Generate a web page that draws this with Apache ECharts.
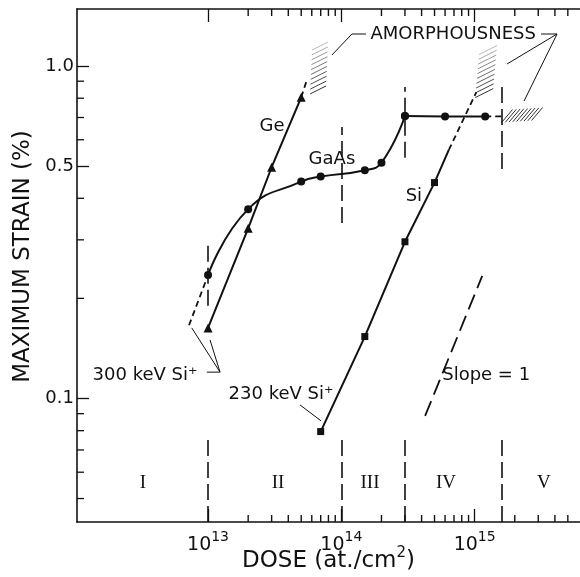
<!DOCTYPE html>
<html>
<head>
<meta charset="utf-8">
<script src="https://cdn.jsdelivr.net/npm/echarts@6/dist/echarts.min.js"></script>
<style>html,body{margin:0;padding:0;background:#fff}#chart{width:580px;height:577px}</style>
</head>
<body>
<div id="chart"></div>
<script>
// axis ranges and tick values
const doseRange = [1.04e12, 6.17e15];
const strainRange = [0.0425, 1.484];
const doseMajorTicks = [1e13, 1e14, 1e15];
const doseMinorTicks = [2e13, 3e13, 4e13, 5e13, 6e13, 7e13, 8e13, 9e13,
  2e14, 3e14, 4e14, 5e14, 6e14, 7e14, 8e14, 9e14, 2e15, 3e15, 4e15, 5e15];
const strainMajorTicks = [0.1, 0.5, 1.0];
const strainMinorTicks = [0.05, 0.06, 0.07, 0.08, 0.09, 0.2, 0.3, 0.4, 0.6, 0.7, 0.8, 0.9];

// GaAs
const gaasDose = [1e13, 2e13, 5e13, 7e13, 1.5e14, 2e14, 3e14];
const gaasStrain = [0.235, 0.371, 0.449, 0.465, 0.486, 0.512, 0.707];
const gaasFlatDose = [3e14, 6e14, 1.2e15];
const gaasFlatStrain = [0.707, 0.705, 0.705];
const gaasLowDose = [7.2e12, 1e13];
const gaasLowStrain = [0.166, 0.235];
const gaasEndDose = [1.2e15, 1.6e15];
const gaasEndStrain = [0.705, 0.705];

// Ge
const geDose = [1e13, 2e13, 3e13, 5e13];
const geStrain = [0.163, 0.325, 0.496, 0.805];
const geEndDose = [5e13, 5.45e13];
const geEndStrain = [0.805, 0.895];

// Si
const siDose = [7e13, 1.5e14, 3e14, 5e14, 6.4e14];
const siStrain = [0.0795, 0.1535, 0.296, 0.446, 0.559];
const siEndDose = [6.4e14, 1.03e15];
const siEndStrain = [0.559, 0.835];

// slope = 1 guide
const slopeDose = [4.25e14, 1.14e15];
const slopeStrain = [0.0886, 0.2336];

// region boundaries
const boundaryDose = [1e13, 1e14, 3e14, 1.6e15];
const boundaryUpLow = [0.19, 0.337, 0.53, 0.49];
const boundaryUpHigh = [0.30, 0.655, 0.865, 0.865];
const boundaryLowTop = [0.076, 0.076, 0.078, 0.077];

// region names
const regionNames = ['I', 'II', 'III', 'IV', 'V'];
const regionDose = [3.25e12, 3.35e13, 1.64e14, 6.1e14, 3.3e15];
const regionStrain = [0.0557, 0.0557, 0.0557, 0.0557, 0.0557];

// text notes
const noteText = ['Ge', 'GaAs', 'Si', 'AMORPHOUSNESS', '300 keV Si\u207A', '230 keV Si\u207A', 'Slope = 1'];
const noteDose = [3.02e13, 8.5e13, 3.5e14, 6.9e14, 3.37e12, 3.53e13, 1.22e15];
const noteStrain = [0.66, 0.525, 0.406, 1.248, 0.117, 0.1031, 0.117];

// arrows
const leaderPaths = [
  [[1.53e14, 1.248], [1.2e14, 1.248], [8.5e13, 1.079]],
  [[3.15e15, 1.248], [4.15e15, 1.248], [1.75e15, 1.014]],
  [[4.15e15, 1.248], [2.35e15, 0.785]],
  [[9.8e12, 0.120], [1.23e13, 0.120], [7.55e12, 0.163]],
  [[1.23e13, 0.120], [1.035e13, 0.150]],
  [[4.9e13, 0.0956], [7.05e13, 0.0856]]
];

// amorphous zones (start / end of the hatched band)
const zoneFrom = [[6.69e13, 0.847], [1.18e15, 0.829], [1.75e15, 0.707]];
const zoneTo = [[6.92e13, 1.148], [1.26e15, 1.117], [2.94e15, 0.717]];

const ink = '#111';
const font = 'DejaVu Sans';
const pairs = (xs, ys) => xs.map((x, i) => [x, ys[i]]);

const hatchLook = [
  { n: 10, dx: 16, dy: -8, fade: 0.65 },
  { n: 10, dx: 18, dy: -9, fade: 0.65 },
  { n: 9, dx: 11, dy: -13, fade: 0 }
];

function renderHatch(params, api) {
  const a = api.coord([api.value(0), api.value(1)]);
  const b = api.coord([api.value(2), api.value(3)]);
  const st = hatchLook[params.dataIndex];
  const kids = [];
  for (let i = 0; i < st.n; i++) {
    const t = i / (st.n - 1);
    const cx = a[0] + (b[0] - a[0]) * t;
    const cy = a[1] + (b[1] - a[1]) * t;
    kids.push({
      type: 'line',
      shape: { x1: cx - st.dx / 2, y1: cy - st.dy / 2, x2: cx + st.dx / 2, y2: cy + st.dy / 2 },
      style: { stroke: '#333', lineWidth: 1, opacity: 1 - st.fade * t }
    });
  }
  return { type: 'group', children: kids };
}

// small inward ticks for the minor log divisions (bottom + top, or left)
const MINOR_LEN = 7;
function renderDoseTick(params, api) {
  const v = api.value(0);
  const lo = api.coord([v, strainRange[0]]);
  const hi = api.coord([v, strainRange[1]]);
  const st = { stroke: ink, lineWidth: 1.4 };
  return {
    type: 'group', children: [
      { type: 'line', shape: { x1: lo[0], y1: lo[1], x2: lo[0], y2: lo[1] - MINOR_LEN }, style: st },
      { type: 'line', shape: { x1: hi[0], y1: hi[1], x2: hi[0], y2: hi[1] + MINOR_LEN }, style: st }
    ]
  };
}
function renderStrainTick(params, api) {
  const p = api.coord([doseRange[0], api.value(1)]);
  return {
    type: 'line', shape: { x1: p[0], y1: p[1], x2: p[0] + MINOR_LEN, y2: p[1] },
    style: { stroke: ink, lineWidth: 1.3 }
  };
}

function textRenderer(texts, style) {
  return function (params, api) {
    const p = api.coord([api.value(0), api.value(1)]);
    return {
      type: 'text', x: p[0], y: p[1],
      style: Object.assign({ text: texts[params.dataIndex], fill: ink, align: 'center', verticalAlign: 'middle' }, style)
    };
  };
}

function xAxisFor(pos, withLabel) {
  return {
    type: 'log', position: pos, min: doseRange[0], max: doseRange[1],
    axisLine: { show: true, onZero: false, lineStyle: { color: ink, width: 1.6 } },
    axisTick: { show: true, inside: true, interval: 0, length: 13, customValues: doseMajorTicks, lineStyle: { color: ink, width: 1.3 } },
    axisLabel: withLabel ? {
      show: true, customValues: doseMajorTicks, margin: 6,
      formatter: v => '{b|10}{s|' + Math.round(Math.log10(v)) + '}',
      rich: {
        b: { fontSize: 19, fontFamily: font, color: ink, padding: [8, 0, 0, 0] },
        s: { fontSize: 14, fontFamily: font, color: ink, padding: [0, 0, 8, 0] }
      }
    } : { show: false },
    splitLine: { show: false },
    name: withLabel ? '{a|DOSE (at./cm}{s|2}{a|)}' : '',
    nameLocation: 'middle', nameGap: 20, nameMoveOverlap: false,
    nameTextStyle: {
      rich: {
        a: { fontSize: 23, fontFamily: font, color: ink, padding: [8, 0, 0, 0] },
        s: { fontSize: 15, fontFamily: font, color: ink, padding: [0, 0, 8, 0] }
      }
    }
  };
}

const option = {
  animation: false,
  backgroundColor: '#fff',
  grid: { left: 77, right: 0, top: 9, bottom: 55, containLabel: false, outerBoundsMode: 'none' },
  xAxis: [xAxisFor('bottom', true), xAxisFor('top', false)],
  yAxis: {
    type: 'log', position: 'left', min: strainRange[0], max: strainRange[1],
    axisLine: { show: true, onZero: false, lineStyle: { color: ink, width: 1.6 } },
    axisTick: { show: true, inside: true, interval: 0, length: 12, customValues: strainMajorTicks, lineStyle: { color: ink, width: 1.3 } },
    axisLabel: {
      show: true, customValues: strainMajorTicks, margin: 3,
      fontSize: 18, fontFamily: font, color: ink,
      formatter: v => (v === 1 ? '1.0' : String(v))
    },
    splitLine: { show: false },
    name: 'MAXIMUM STRAIN (%)',
    nameLocation: 'middle', nameGap: 42, nameRotate: 90, nameMoveOverlap: false,
    nameTextStyle: { fontSize: 23, fontFamily: font, color: ink, padding: [0, 0, 0, 18] }
  },
  series: [
    {
      type: 'custom', renderItem: renderDoseTick, z: 8, silent: true, clip: false,
      data: doseMinorTicks.map(v => [v, strainRange[0]])
    },
    {
      type: 'custom', renderItem: renderStrainTick, z: 8, silent: true, clip: false,
      data: strainMinorTicks.map(v => [doseRange[0], v])
    },
    {
      type: 'custom', renderItem: renderHatch, z: 2,
      data: zoneFrom.map((f, i) => [f[0], f[1], zoneTo[i][0], zoneTo[i][1]]),
      encode: { x: [0, 2], y: [1, 3] }
    },
    {
      type: 'lines', coordinateSystem: 'cartesian2d', z: 3,
      lineStyle: { color: ink, width: 1.6, type: [16, 6], opacity: 1 },
      data: (function () {
        const segs = [];
        boundaryDose.forEach((d, i) => {
          segs.push({ coords: [[d, boundaryUpLow[i]], [d, boundaryUpHigh[i]]] });
          segs.push({ coords: [[d, strainRange[0]], [d, boundaryLowTop[i]]] });
        });
        return segs;
      })()
    },
    {
      type: 'line', data: pairs(gaasDose, gaasStrain), symbol: 'circle', symbolSize: 8, smooth: 0.5,
      lineStyle: { color: ink, width: 2 }, itemStyle: { color: ink }, z: 5
    },
    {
      type: 'line', data: pairs(gaasFlatDose, gaasFlatStrain), symbol: 'circle', symbolSize: 8,
      lineStyle: { color: ink, width: 2 }, itemStyle: { color: ink }, z: 5
    },
    {
      type: 'line', data: pairs(gaasLowDose, gaasLowStrain), symbol: 'none',
      lineStyle: { color: ink, width: 1.8, type: [6, 4] }, z: 4
    },
    {
      type: 'line', data: pairs(gaasEndDose, gaasEndStrain), symbol: 'none',
      lineStyle: { color: ink, width: 1.8, type: [6, 4] }, z: 4
    },
    {
      type: 'line', data: pairs(geDose, geStrain), symbol: 'triangle', symbolSize: 9,
      lineStyle: { color: ink, width: 2 }, itemStyle: { color: ink }, z: 5
    },
    {
      type: 'line', data: pairs(geEndDose, geEndStrain), symbol: 'none',
      lineStyle: { color: ink, width: 1.8, type: [6, 4] }, z: 4
    },
    {
      type: 'line', symbol: 'rect', symbolSize: 7,
      data: pairs(siDose, siStrain).map((p, i) => i === siDose.length - 1 ? { value: p, symbol: 'none' } : p),
      lineStyle: { color: ink, width: 2 }, itemStyle: { color: ink }, z: 5
    },
    {
      type: 'line', data: pairs(siEndDose, siEndStrain), symbol: 'none',
      lineStyle: { color: ink, width: 1.8, type: [6, 4] }, z: 4
    },
    {
      type: 'line', data: pairs(slopeDose, slopeStrain), symbol: 'none',
      lineStyle: { color: ink, width: 1.8, type: [16, 7] }, z: 4
    },
    {
      type: 'lines', coordinateSystem: 'cartesian2d', polyline: true, z: 6,
      symbol: ['none', 'arrow'], symbolSize: 8,
      lineStyle: { color: ink, width: 1, opacity: 1 },
      data: leaderPaths.map(p => ({ coords: p }))
    },
    {
      type: 'custom', z: 7,
      renderItem: textRenderer(noteText, { font: '18px "DejaVu Sans"' }),
      data: pairs(noteDose, noteStrain)
    },
    {
      type: 'custom', z: 7,
      renderItem: textRenderer(regionNames, { font: '19px "Liberation Serif"' }),
      data: pairs(regionDose, regionStrain)
    }
  ]
};

const chart = echarts.init(document.getElementById('chart'));
chart.setOption(option);
</script>
</body>
</html>
